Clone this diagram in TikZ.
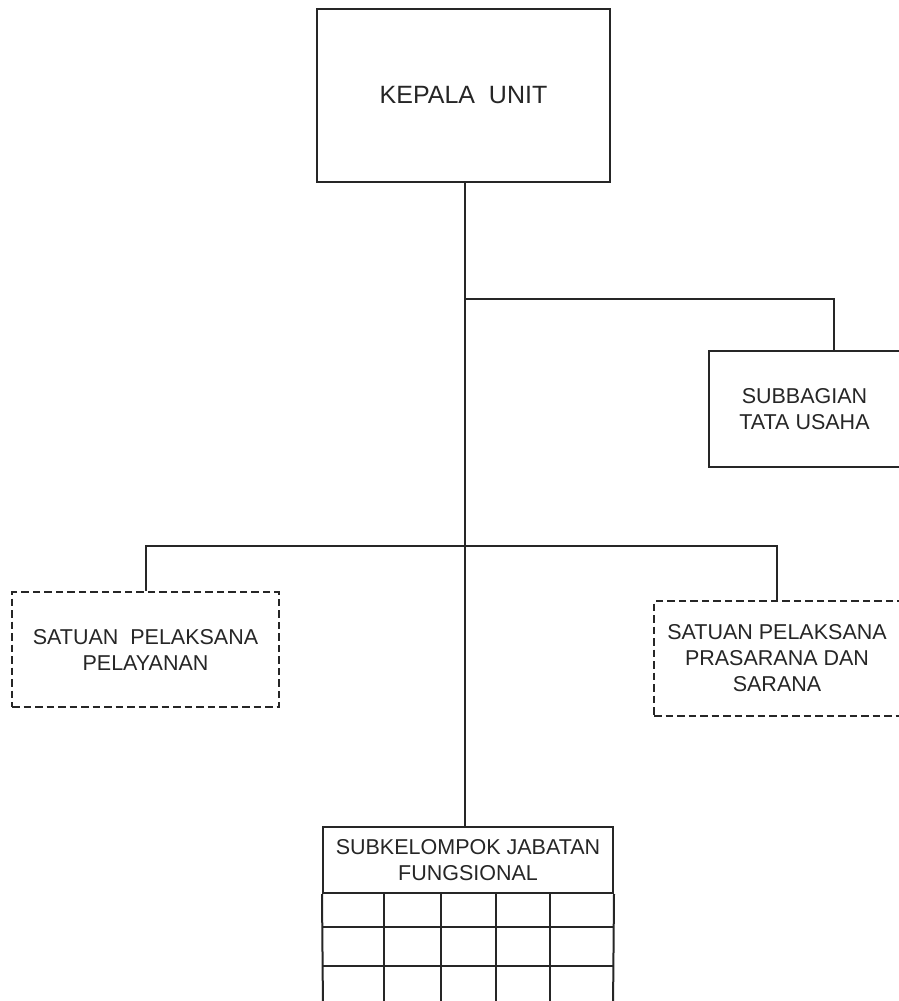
\documentclass[tikz,border=0pt]{standalone}
\usepackage{fontspec}
\setmainfont{Liberation Sans}
\begin{document}
\begin{tikzpicture}[x=1pt,y=-1pt,
  line/.style={line width=2pt, draw=black!85},
  solidbox/.style={line, rectangle, inner sep=0pt, align=center, text=black!85, font=\fontsize{21.5}{25.5}\selectfont},
  dashbox/.style={line width=2.3pt, draw=black!85, dash pattern=on 7.5pt off 4pt, rectangle, inner sep=0pt, align=center, text=black!85, font=\fontsize{21.5}{26}\selectfont}
]
\useasboundingbox (0,0) rectangle (898,1001);
\fill[white] (0,0) rectangle (898,1001);

\node[solidbox, minimum width=293pt, minimum height=173pt, font=\fontsize{25}{28}\selectfont] (kepala) at (463.5,95.5) {KEPALA\ \ UNIT};
\node[solidbox, minimum width=191pt, minimum height=116pt] (sub) at (804.5,409) {SUBBAGIAN\\TATA USAHA};
\node[dashbox, minimum width=267pt, minimum height=115pt] (left) at (145.5,649.5) {SATUAN\ \ PELAKSANA\\PELAYANAN};
\node[dashbox, minimum width=246pt, minimum height=115pt] (right) at (777,658.5) {SATUAN PELAKSANA\\PRASARANA DAN\\SARANA};
\node[solidbox, minimum width=290pt, minimum height=66pt] (grid) at (468,860) {SUBKELOMPOK JABATAN\\FUNGSIONAL};

% main trunk
\draw[line] (kepala.south -| 464.5,0) -- (grid.north -| 464.5,0);
% branch to Subbagian
\coordinate (j1) at (464.5,299);
\coordinate (b1) at (834,299);
\draw[line] (j1) -- (b1) -- (b1 |- sub.north);
% branch to Satuan Pelaksana boxes
\coordinate (h2) at (0,546);
\draw[line] (left.north) |- (h2 -| right.north) -- (right.north);

% grid cells below the header
\foreach \x in {384,441,496,550} \draw[line] (\x,893) -- (\x,1010);
\foreach \y in {927,966} \draw[line] (323,\y) -- (613,\y);
\draw[line] (grid.south west) -- (323,1010);
\draw[line] (grid.south east) -- (613,1010);
\end{tikzpicture}
\end{document}
